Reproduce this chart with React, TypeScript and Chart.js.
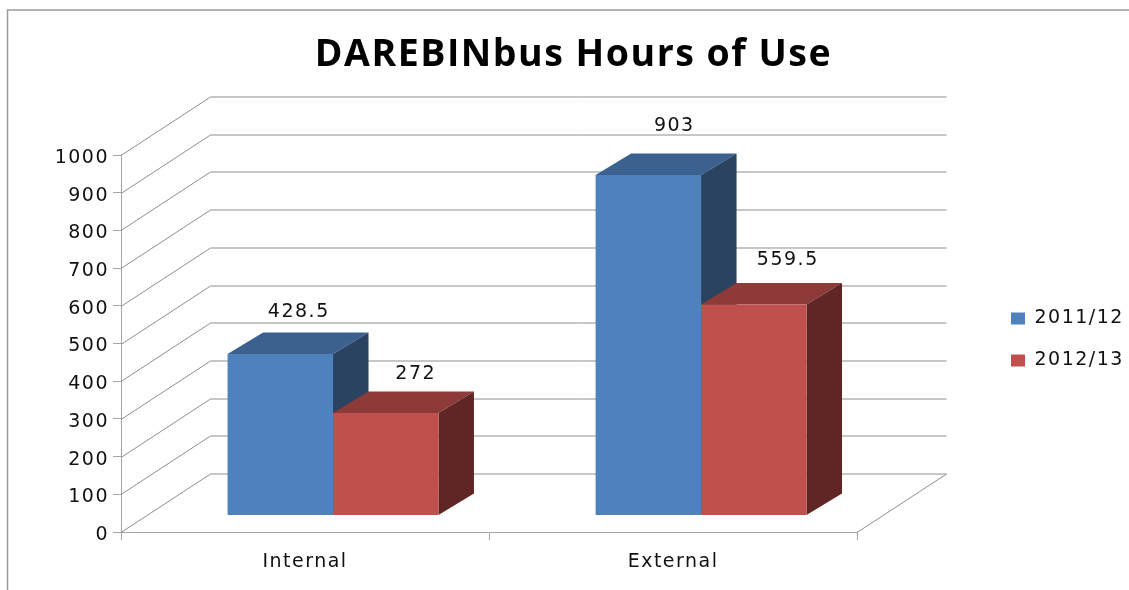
import React, { useEffect, useRef } from "react";
import { Chart, registerables } from "chart.js";

Chart.register(...registerables);

const categories = ["Internal", "External"];
const seriesNames = ["2011/12", "2012/13"];
const values2011 = [428.5, 903];
const values2012 = [272, 559.5];
const yMax = 1000;
const yStep = 100;

const frontColors = ["#4F81BD", "#C0504D"];
const topColors = ["#3C618F", "#8E3A38"];
const sideColors = ["#2A4361", "#5F2625"];

const barShift = { x: 28, y: -16.5 };
const barDepth = { x: 35.5, y: -21.5 };
const wallDepth = { x: 89.5, y: -58.5 };
const labelShiftX = [[18.5, 26], [30, 34]];
const labelLift = [[41.5, 49], [39, 45]];
const SPACING = "1.5px";

function drawFaces(ctx: any, bars: any[], i: number) {
  for (const bar of bars) {
    const l = bar.x - bar.width / 2;
    const r = bar.x + bar.width / 2;
    const t = bar.y;
    const b = bar.base;
    ctx.fillStyle = topColors[i];
    ctx.beginPath();
    ctx.moveTo(l, t);
    ctx.lineTo(l + barDepth.x, t + barDepth.y);
    ctx.lineTo(r + barDepth.x, t + barDepth.y);
    ctx.lineTo(r, t);
    ctx.closePath();
    ctx.fill();
    ctx.fillStyle = sideColors[i];
    ctx.beginPath();
    ctx.moveTo(r, t);
    ctx.lineTo(r + barDepth.x, t + barDepth.y);
    ctx.lineTo(r + barDepth.x, b + barDepth.y);
    ctx.lineTo(r, b);
    ctx.closePath();
    ctx.fill();
  }
}

const look = {
  id: "look",
  beforeLayout(chart: any) {
    chart.ctx.letterSpacing = SPACING;
  },
  afterLayout(chart: any) {
    chart.titleBlock.left = 18;
    chart.titleBlock.right = 1129;
    chart.legend.left = 1011 - 23;
    chart.legend.top = 309 - 23;
    chart.legend.right = 1129;
    chart.legend.bottom = 590;
  },
  beforeDraw(chart: any) {
    const { ctx } = chart;
    ctx.letterSpacing = SPACING;
    ctx.save();
    ctx.fillStyle = "#FFFFFF";
    ctx.fillRect(0, 0, chart.width, chart.height);
    ctx.strokeStyle = "#9A9A9A";
    ctx.lineWidth = 1.5;
    ctx.beginPath();
    ctx.moveTo(7.5, chart.height);
    ctx.lineTo(7.5, 10);
    ctx.lineTo(chart.width, 10);
    ctx.stroke();
    ctx.restore();
  },
  beforeDatasetsDraw(chart: any) {
    const { ctx, chartArea, scales } = chart;
    const left = chartArea.left;
    const right = chartArea.right;
    ctx.save();
    ctx.strokeStyle = "#8F8F8F";
    ctx.lineWidth = 1;
    for (const tick of scales.y.ticks) {
      const y = Math.round(scales.y.getPixelForValue(tick.value)) + 0.5;
      ctx.beginPath();
      ctx.moveTo(left, y);
      ctx.lineTo(left + wallDepth.x, y + wallDepth.y);
      ctx.lineTo(right + wallDepth.x, y + wallDepth.y);
      ctx.stroke();
    }
    const floorY = Math.round(scales.y.getPixelForValue(0)) + 0.5;
    ctx.beginPath();
    ctx.moveTo(right, floorY);
    ctx.lineTo(right + wallDepth.x, floorY + wallDepth.y);
    ctx.stroke();
    ctx.restore();
  },
  beforeDatasetDraw(chart: any, args: any) {
    const { ctx } = chart;
    ctx.save();
    ctx.translate(barShift.x, barShift.y);
    // Chart.js paints the last dataset first, so the extruded faces of both
    // series go down here, back to front, ahead of any front face.
    if (args.index === chart.data.datasets.length - 1) {
      chart.data.datasets.forEach((_: any, i: number) => {
        drawFaces(ctx, chart.getDatasetMeta(i).data, i);
      });
    }
  },
  afterDatasetDraw(chart: any) {
    chart.ctx.restore();
  },
  afterDatasetsDraw(chart: any) {
    const { ctx } = chart;
    ctx.save();
    ctx.font = "19px 'DejaVu Sans'";
    ctx.fillStyle = "#111111";
    ctx.textAlign = "center";
    ctx.textBaseline = "middle";
    chart.data.datasets.forEach((ds: any, i: number) => {
      chart.getDatasetMeta(i).data.forEach((bar: any, j: number) => {
        ctx.fillText(
          String(ds.data[j]),
          bar.x + barShift.x + labelShiftX[i][j],
          bar.y + barShift.y - labelLift[i][j]
        );
      });
    });
    ctx.restore();
  },
};

export default function App() {
  const ref = useRef<HTMLCanvasElement>(null);
  useEffect(() => {
    const chart = new Chart(ref.current as HTMLCanvasElement, {
      type: "bar",
      data: {
        labels: categories,
        datasets: [
          { label: seriesNames[0], data: values2011, backgroundColor: frontColors[0], clip: false },
          { label: seriesNames[1], data: values2012, backgroundColor: frontColors[1], clip: false },
        ],
      },
      plugins: [look],
      options: {
        responsive: false,
        animation: false,
        categoryPercentage: 0.573,
        barPercentage: 1,
        layout: { padding: { left: 0, right: 126, top: 0, bottom: 0 } },
        plugins: {
          tooltip: { enabled: false },
          title: {
            display: true,
            text: "DAREBINbus Hours of Use",
            color: "#000000",
            font: { family: "'Open Sans'", size: 37.5, weight: "bold", lineHeight: 1.2 },
            padding: { top: 33, bottom: 77 },
          },
          legend: {
            position: "right",
            align: "start",
            labels: {
              boxWidth: 14,
              boxHeight: 12,
              padding: 23,
              color: "#111111",
              font: { family: "'DejaVu Sans'", size: 19 },
            },
          },
        },
        scales: {
          x: {
            afterFit(scale: any) {
              scale.height = 58;
            },
            grid: { offset: true, drawOnChartArea: false, color: "#A6A6A6", tickLength: 8 },
            border: { color: "#A6A6A6", width: 1 },
            ticks: {
              color: "#111111",
              padding: 11,
              font: { family: "'DejaVu Sans'", size: 19 },
            },
          },
          y: {
            min: 0,
            max: yMax,
            afterFit(scale: any) {
              scale.width = 121;
            },
            grid: { drawOnChartArea: false, color: "#A6A6A6", tickLength: 8 },
            border: { color: "#A6A6A6", width: 1 },
            ticks: {
              stepSize: yStep,
              color: "#111111",
              padding: 4,
              labelOffset: 3,
              callback: (v: any) => String(v),
              font: { family: "'DejaVu Sans'", size: 19 },
            },
          },
        },
      },
    } as any);
    return () => chart.destroy();
  }, []);
  return (
    <div style={{ position: "absolute", left: 0, top: 0, width: 1129, height: 590 }}>
      <canvas ref={ref} width={1129} height={590} style={{ display: "block" }} />
    </div>
  );
}
